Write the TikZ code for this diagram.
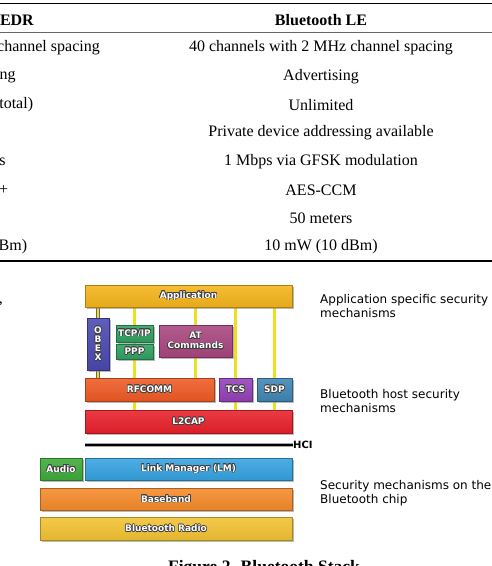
\documentclass[tikz,border=0pt]{standalone}
\usepackage{fontspec}
\setmainfont{Liberation Serif}
\newfontfamily\dejavu{DejaVu Sans}
\usepackage[copies]{contour}
\contourlength{0.6pt}
\usetikzlibrary{shadows,backgrounds}
\definecolor{appY}{HTML}{F4B41A}
\definecolor{obexB}{HTML}{4A48B0}
\definecolor{tcpG}{HTML}{2FA060}
\definecolor{atM}{HTML}{A8457E}
\definecolor{rfO}{HTML}{EE5A24}
\definecolor{tcsP}{HTML}{9440B8}
\definecolor{sdpB}{HTML}{3F85B5}
\definecolor{l2R}{HTML}{E8202A}
\definecolor{audG}{HTML}{3DAA3A}
\definecolor{lmB}{HTML}{35A2E0}
\definecolor{bbO}{HTML}{F58A2A}
\definecolor{radY}{HTML}{F2C232}
\definecolor{pipeY}{HTML}{EEE020}
\newcommand{\blab}[1]{\contour{black!75}{#1}}
\begin{document}
\begin{tikzpicture}[x=1pt,y=-1pt,
    blk/.style = {inner sep=0pt, outer sep=0pt, text=white, draw=#1!70!black,
      top color=#1!88!white, bottom color=#1!94!black,
      font=\dejavu\bfseries\fontsize{9}{10}\selectfont,
      drop shadow={shadow xshift=1.6pt, shadow yshift=-1.6pt, opacity=0.55}},
    pipe/.style = {draw=black!60, line width=0.5pt, double=pipeY, double distance=2.4pt},
    cell/.style = {inner sep=0pt, font=\fontsize{16}{18}\selectfont},
    note/.style = {inner sep=0pt, anchor=west, align=left, font=\dejavu\fontsize{12}{14}\selectfont}]
  \begin{scope}[on background layer]
    \fill[white] (0,0) rectangle (492,566);
  \end{scope}
  \useasboundingbox (0,0) rectangle (492,566);
  % table
  \draw[line width=1.2pt] (0,3.5) -- (492,3.5);
  \draw[line width=0.6pt, black!60] (0,32) -- (492,32);
  \draw[line width=1.2pt] (0,261) -- (492,261);
  \node[cell, anchor=east, font=\bfseries\fontsize{16}{18}\selectfont] (h1) at (34,20) {EDR};
  \node[cell, font=\bfseries\fontsize{16}{18}\selectfont] (h2) at (321,20) {Bluetooth LE};
  \node[cell, anchor=east] (a1) at (100,48) {channel spacing};
  \node[cell, anchor=east] (a2) at (15.7,77) {ng};
  \node[cell, anchor=east] (a3) at (33.3,105) {(total)};
  \node[cell, anchor=east] (a5) at (5.7,162) {s};
  \node[cell, anchor=east] (a6) at (8.3,190) {+};
  \node[cell, anchor=east] (a8) at (27.3,247) {Bm)};
  \node[cell] (b1) at (321,48) {40 channels with 2 MHz channel spacing};
  \node[cell] (b2) at (321,77) {Advertising};
  \node[cell] (b3) at (321,105) {Unlimited};
  \node[cell] (b4) at (321,133) {Private device addressing available};
  \node[cell] (b5) at (321,162) {1 Mbps via GFSK modulation};
  \node[cell] (b6) at (321,190) {AES-CCM};
  \node[cell] (b7) at (321,218) {50 meters};
  \node[cell] (b8) at (321,247) {10 mW (10 dBm)};
  \node[cell, anchor=base east] (cm) at (3,303) {,};
  % stack
  \node[blk=appY, minimum width=207pt, minimum height=22pt] (app) at (188.5,296) {\blab{Application}};
  \node[blk=obexB, minimum width=22pt, minimum height=52pt, align=center,
    font=\dejavu\bfseries\fontsize{9}{9}\selectfont] (obex) at (98,344) {\blab{O}\\\blab{B}\\\blab{E}\\\blab{X}};
  \node[blk=tcpG, minimum width=37pt, minimum height=17pt] (tcp) at (134.5,333.5) {\blab{TCP/IP}};
  \node[blk=tcpG, minimum width=37pt, minimum height=15pt] (ppp) at (134.5,351.5) {\blab{PPP}};
  \node[blk=atM, minimum width=73pt, minimum height=32pt, align=center,
    font=\dejavu\bfseries\fontsize{9}{10}\selectfont] (at) at (195.5,341) {\blab{AT}\\\blab{Commands}};
  \node[blk=rfO, minimum width=129pt, minimum height=23pt] (rfcomm) at (149.5,389.5) {\blab{RFCOMM}};
  \node[blk=tcsP, minimum width=33pt, minimum height=23pt] (tcs) at (235.5,389.5) {\blab{TCS}};
  \node[blk=sdpB, minimum width=35pt, minimum height=23pt] (sdp) at (274.5,389.5) {\blab{SDP}};
  \node[blk=l2R, minimum width=207pt, minimum height=23pt] (l2cap) at (188.5,421.5) {\blab{L2CAP}};
  \node[inner sep=0pt, anchor=west, font=\dejavu\bfseries\fontsize{10}{12}\selectfont] (hci) at (293,445) {HCI};
  \node[blk=audG, minimum width=42pt, minimum height=22pt] (audio) at (61,469) {\blab{Audio}};
  \node[blk=lmB, minimum width=207pt, minimum height=22pt] (lm) at (188.5,469) {\blab{Link Manager (LM)}};
  \node[blk=bbO, minimum width=252pt, minimum height=22pt] (bb) at (166,499) {\blab{Baseband}};
  \node[blk=radY, minimum width=252pt, minimum height=23pt] (radio) at (166,528.5) {\blab{Bluetooth Radio}};
  \draw[draw=black!35, line width=0.7pt, double=black, double distance=2.2pt] (l2cap.west |- hci.west) -- (hci.west);
  \begin{scope}[on background layer]
    \draw[pipe] (obex.center |- app.south) -- (obex.center |- rfcomm.north);
    \draw[pipe] (tcp.center |- app.south) -- (tcp.center |- l2cap.north);
    \draw[pipe] (at.center |- app.south) -- (at.center |- rfcomm.north);
    \draw[pipe] (tcs.center |- app.south) -- (tcs.center |- l2cap.north);
    \draw[pipe] (sdp.center |- app.south) -- (sdp.center |- l2cap.north);
  \end{scope}
  % notes
  \node[note] (n1) at (320,306) {Application specific security\\mechanisms};
  \node[note] (n2) at (320,401.5) {Bluetooth host security\\mechanisms};
  \node[note] (n3) at (320,493.5) {Security mechanisms on the\\Bluetooth chip};
  \node[inner sep=0pt, anchor=base, font=\bfseries\fontsize{17.5}{20}\selectfont] (cap) at (264,572.5) {Figure 2. Bluetooth Stack};
\end{tikzpicture}
\end{document}
